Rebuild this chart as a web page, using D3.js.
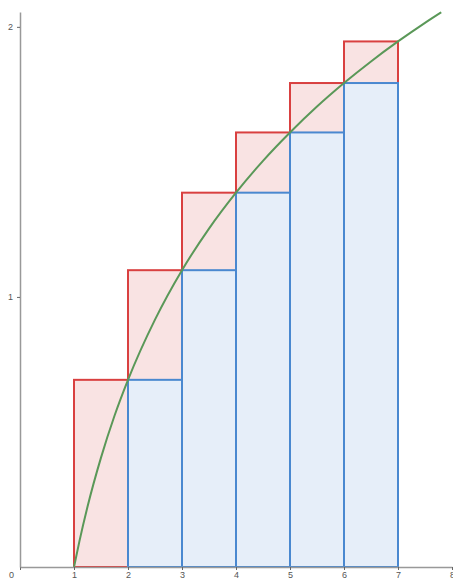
<!DOCTYPE html>
<html>
<head>
<meta charset="utf-8">
<script src="https://cdn.jsdelivr.net/npm/d3@7"></script>
<style>
  body { margin: 0; background: #fff; }
  svg { display: block; }
  .tick text { font-family: "Liberation Sans", Arial, sans-serif; font-size: 9px; fill: #555; }
</style>
</head>
<body>
<svg id="chart"></svg>
<script>
const width = 453;
const height = 578;
const margin = {top: 12, left: 20, bottom: 11, right: 1};

// left edges of the intervals
const upperLeft = [1, 2, 3, 4, 5, 6];
const upperHeights = [0.693, 1.099, 1.386, 1.609, 1.792, 1.946];
const lowerLeft = [2, 3, 4, 5, 6];
const lowerHeights = [0.693, 1.099, 1.386, 1.609, 1.792];

// curve y = ln x, read at sample points
const curveX = [1, 1.1, 1.25, 1.5, 1.75, 2, 2.5, 3, 3.5, 4, 4.5, 5, 5.5, 6, 6.5, 7, 7.5, 7.8];
const curveY = [0, 0.095, 0.223, 0.405, 0.560, 0.693, 0.916, 1.099, 1.253, 1.386, 1.504, 1.609, 1.705, 1.792, 1.872, 1.946, 2.015, 2.054];

const xTicks = [0, 1, 2, 3, 4, 5, 6, 7, 8];
const yTicks = [1, 2];

const svg = d3.select("#chart").attr("width", width).attr("height", height);

const x = d3.scaleLinear().domain([0, 8]).range([margin.left, width - margin.right]);
const y = d3.scaleLinear().domain([0, 2.055]).range([height - margin.bottom, margin.top]);

svg.append("g")
    .selectAll("rect")
    .data(upperLeft.map((d, i) => ({x0: d, h: upperHeights[i]})))
    .join("rect")
    .attr("x", d => x(d.x0))
    .attr("y", d => y(d.h))
    .attr("width", d => x(d.x0 + 1) - x(d.x0))
    .attr("height", d => y(0) - y(d.h))
    .attr("fill", "#f9e3e3")
    .attr("stroke", "#d94040")
    .attr("stroke-width", 2);

svg.append("g")
    .selectAll("rect")
    .data(lowerLeft.map((d, i) => ({x0: d, h: lowerHeights[i]})))
    .join("rect")
    .attr("x", d => x(d.x0))
    .attr("y", d => y(d.h))
    .attr("width", d => x(d.x0 + 1) - x(d.x0))
    .attr("height", d => y(0) - y(d.h))
    .attr("fill", "#e6eef9")
    .attr("stroke", "#4a88d0")
    .attr("stroke-width", 2);

const line = d3.line()
    .x(d => x(d[0]))
    .y(d => y(d[1]))
    .curve(d3.curveMonotoneX);

svg.append("path")
    .datum(curveX.map((d, i) => [d, curveY[i]]))
    .attr("d", line)
    .attr("fill", "none")
    .attr("stroke", "#5a9858")
    .attr("stroke-width", 2);

// axes
svg.append("g")
    .attr("transform", `translate(0,${y(0)})`)
    .call(d3.axisBottom(x).tickValues(xTicks).tickFormat(d3.format("d")).tickSize(3).tickSizeOuter(0).tickPadding(2))
    .call(g => g.select(".domain").attr("stroke", "#999").attr("stroke-width", 1.5))
    .call(g => g.selectAll(".tick line").attr("stroke", "#666"))
    .call(g => g.selectAll(".tick").filter(d => d === 0).select("text").attr("dx", "-9px"));

svg.append("g")
    .attr("transform", `translate(${x(0)},0)`)
    .call(d3.axisLeft(y).tickValues(yTicks).tickFormat(d3.format("d")).tickSize(3).tickSizeOuter(0).tickPadding(4))
    .call(g => g.select(".domain").attr("stroke", "#999").attr("stroke-width", 1.5))
    .call(g => g.selectAll(".tick line").attr("stroke", "#666"));
</script>
</body>
</html>
